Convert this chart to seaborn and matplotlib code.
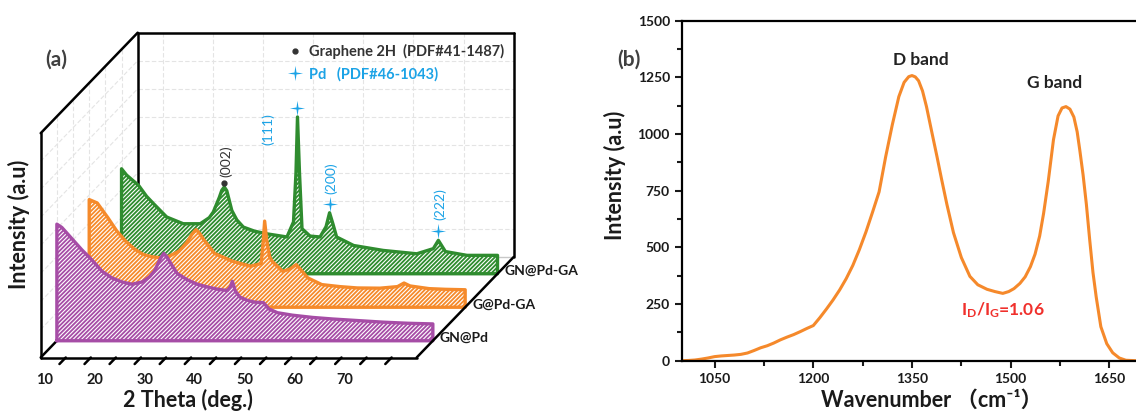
import numpy as np
import matplotlib
matplotlib.use("Agg")
import matplotlib.pyplot as plt
from matplotlib.lines import Line2D
from matplotlib.path import Path
from matplotlib.ticker import AutoMinorLocator, MultipleLocator
import matplotlib.transforms as mtransforms
import seaborn as sns

# ---------------- panel (a): XRD waterfall ----------------
# 2 theta (deg.) and intensity (a.u.)
tt_gnpd = [5.0, 6, 8, 10, 12, 14, 16, 18, 20, 22, 23.5, 24.5, 25.5, 26.3, 27, 28, 29, 31, 33, 35, 37, 39,
           39.6, 40.0, 40.6, 41.5, 43, 44.5, 46.2, 47.3, 49, 52, 56, 60, 65, 70, 75, 80]
int_gnpd = [520, 505, 455, 405, 360, 310, 280, 262, 252, 262, 285, 312, 360, 390, 372, 335, 300, 272, 252, 240, 230, 224,
            240, 265, 222, 195, 180, 172, 170, 142, 125, 114, 104, 97, 90, 83, 78, 75]

tt_gpdga = [5.0, 6.6, 8.7, 10.5, 12.3, 14, 15.8, 17.5, 19.4, 21, 22.9, 24.5, 25.5, 26.3, 27, 27.9, 30, 33.6, 37.2, 39.3,
            39.7, 40.0, 40.4, 41.0, 41.5, 43.6, 45, 46.3, 47.5, 48.6, 51.4, 55, 58.5, 63, 66.5, 67.8, 69, 72.8, 76, 80]
int_gpdga = [480, 465, 400, 340, 294, 260, 235, 225, 220, 228, 250, 290, 325, 346, 330, 300, 240, 205, 183, 195,
             290, 384, 300, 225, 205, 160, 170, 190, 160, 131, 101, 92, 86, 85, 92, 108, 95, 83, 80, 78]

tt_gnpdga = [5.0, 6, 8.4, 10, 11.4, 14, 17.3, 20.7, 22.5, 23.3, 24.5, 25.0, 25.5, 26.0, 27, 28, 29.3, 31.5, 34, 38, 39.3,
             39.8, 40.1, 40.5, 41.0, 42.6, 44.6, 45.8, 46.5, 47.2, 47.9, 51.3, 57.2, 63.9, 67.2, 68.2, 69.6, 73.9, 80]
int_gnpdga = [468, 440, 394, 345, 312, 253, 223, 223, 250, 275, 340, 372, 387, 370, 282, 240, 208, 190, 178, 164, 231,
              450, 699, 450, 201, 168, 164, 210, 272, 220, 164, 126, 104, 89, 112, 149, 99, 82, 82]

xrd_names = ["GN@Pd", "G@Pd-GA", "GN@Pd-GA"]
xrd_colors = ["#A64DA6", "#F58A2B", "#2F8C2F"]
xrd_ticks = [10, 20, 30, 40, 50, 60, 70]

graphene_peaks = [25.5]
graphene_hkl = ["(002)"]
pd_peaks = [40.1, 46.5, 68.2]
pd_hkl = ["(111)", "(200)", "(222)"]

# ---------------- panel (b): Raman ----------------
raman_wn = [1000, 1010, 1020, 1030, 1040, 1050, 1060, 1070, 1080, 1090, 1100, 1110, 1120, 1130, 1140, 1150,
            1160, 1170, 1180, 1190, 1200, 1210, 1220, 1230, 1240, 1250, 1260, 1270, 1280, 1290, 1300, 1310,
            1320, 1330, 1338, 1345, 1350, 1355, 1360, 1366, 1372, 1380, 1388, 1395, 1403, 1413, 1425, 1438,
            1450, 1464, 1476, 1488, 1497, 1505, 1514, 1522, 1530, 1537, 1544, 1550, 1557, 1565, 1572, 1578,
            1584, 1590, 1596, 1601, 1605, 1610, 1615, 1620, 1625, 1630, 1637, 1646, 1655, 1665, 1675, 1690, 1700]
raman_int = [0, 1, 3, 7, 12, 18, 21, 23, 25, 28, 34, 45, 57, 66, 78, 92,
             104, 115, 128, 142, 155, 190, 228, 268, 312, 362, 420, 490, 568, 655, 745, 900,
             1040, 1165, 1228, 1253, 1258, 1252, 1235, 1190, 1121, 1010, 900, 800, 690, 565, 455, 372,
             335, 315, 305, 297, 305, 318, 341, 370, 415, 470, 550, 650, 790, 975, 1080, 1115,
             1121, 1110, 1075, 1010, 929, 820, 690, 535, 390, 280, 150, 75, 35, 12, 2, 0, 0]
raman_ticks = [1050, 1200, 1350, 1500, 1650]

# ---------------- style ----------------
sns.set_style("white")
plt.rcParams["font.family"] = ["Lato", "Noto Sans CJK SC", "DejaVu Sans"]
plt.rcParams["font.weight"] = "bold"
plt.rcParams["axes.labelweight"] = "bold"
plt.rcParams["mathtext.fontset"] = "custom"
plt.rcParams["mathtext.rm"] = "Lato"
plt.rcParams["mathtext.bf"] = "Lato:bold"
plt.rcParams["hatch.linewidth"] = 0.8

W, H = 1136, 412
fig = plt.figure(figsize=(W / 100, H / 100), dpi=100)

# pseudo-3D geometry (pixels)
x0_px, y0_px = 40.7, 357.5      # front-bottom-left corner of the box
px_per_deg, px_per_unit = 5.013, 0.2243
depth_px = (97.0, 100.5)
tt_min, tt_max, i_max = 5, 80, 1000

ax = fig.add_axes([0, 0, 560 / W, 1])
ax.set_xlim(tt_min - x0_px / px_per_deg, tt_min + (560 - x0_px) / px_per_deg)
ax.set_ylim(-(H - y0_px) / px_per_unit, y0_px / px_per_unit)
ax.axis("off")
DX = depth_px[0] / px_per_deg
DY = depth_px[1] / px_per_unit


def proj(tt, inten, d):
    return np.asarray(tt, float) + d * DX, np.asarray(inten, float) + d * DY


def seg(p, q, **kw):
    ax.plot([p[0], q[0]], [p[1], q[1]], solid_capstyle="round", **kw)


grid_kw = dict(color="#e4e4e4", lw=0.8, ls=(0, (4, 2)), zorder=0)
for v in range(10, tt_max, 10):
    seg(proj(v, 0, 1), proj(v, i_max, 1), **grid_kw)
for lev in range(125, i_max, 125):
    seg(proj(tt_min, lev, 1), proj(tt_max, lev, 1), **grid_kw)
    seg(proj(tt_min, lev, 0), proj(tt_min, lev, 1), **grid_kw)
for d in np.arange(1, 6) / 6:
    seg(proj(tt_min, 0, d), proj(tt_min, i_max, d), **grid_kw)

box_kw = dict(color="black", lw=1.8, zorder=1)
seg(proj(tt_min, 0, 1), proj(tt_max, 0, 1), color="#c8c8c8", lw=1.0, zorder=1)
seg(proj(tt_min, i_max, 1), proj(tt_max, i_max, 1), **box_kw)
seg(proj(tt_max, 0, 1), proj(tt_max, i_max, 1), **box_kw)
seg(proj(tt_min, 0, 1), proj(tt_min, i_max, 1), **box_kw)
seg(proj(tt_min, 0, 0), proj(tt_min, 0, 1), **box_kw)

xrd_tt = [tt_gnpd, tt_gpdga, tt_gnpdga]
xrd_int = [int_gnpd, int_gpdga, int_gnpdga]
depths = [1 / 6, 1 / 2, 5 / 6]
for k in [2, 1, 0]:
    d, c = depths[k], xrd_colors[k]
    X, Y = proj(xrd_tt[k], xrd_int[k], d)
    base = d * DY
    ax.fill_between(X, base, Y, facecolor=c, edgecolor="white", hatch="////////", linewidth=0, zorder=2 + (2 - k))
    ox = np.concatenate([[X[0]], X, [X[-1], X[0]]])
    oy = np.concatenate([[base], Y, [base, base]])
    ax.plot(ox, oy, color=c, lw=2.4, zorder=2.5 + (2 - k), solid_joinstyle="round")
    lx, ly = proj(tt_max, 0, d)
    ax.annotate(xrd_names[k], (lx, ly), xytext=(5, 2), textcoords="offset points",
                ha="left", va="center", fontsize=10, fontweight="bold", color="#1a1a1a")

# front edges of the box
front_kw = dict(color="black", lw=1.8, zorder=6)
seg(proj(tt_min, 0, 0), proj(tt_min, i_max, 0), **front_kw)
seg(proj(tt_min, i_max, 0), proj(tt_min, i_max, 1), **front_kw)
seg(proj(tt_min, 0, 0), proj(tt_max, 0, 0), **front_kw)
seg(proj(tt_max, 0, 0), proj(tt_max, 0, 1), **front_kw)
for v in range(10, 80, 5):
    seg(proj(v, 0, 0), proj(v, 0, -0.065), **front_kw)
for v in xrd_ticks:
    tx, ty = proj(v, 0, -0.22)
    ax.text(tx, ty, str(v), ha="center", va="center", fontsize=10.5, fontweight="bold", color="#1a1a1a")

tx, ty = proj(42.5, 0, -0.42)
ax.text(tx, ty, "2 Theta (deg.)", ha="center", va="center", fontsize=15.5, fontweight="bold", color="#1a1a1a")
ax.text(0.6, 595, "Intensity (a.u)", rotation=90, ha="center", va="center", fontsize=15.5,
        fontweight="bold", color="#1a1a1a")
ax.text(8.2, 1326, "(a)", ha="center", va="center", fontsize=15, fontweight="bold", color="#404040")

# phase markers on the back (GN@Pd-GA) curve
star = Path([(0, 1), (0.13, 0.13), (1, 0), (0.13, -0.13), (0, -1), (-0.13, -0.13), (-1, 0), (-0.13, 0.13), (0, 1)],
            [Path.MOVETO] + [Path.LINETO] * 7 + [Path.CLOSEPOLY])
gray, blue = "#333333", "#1CA3E6"
dg = depths[2]
for p, lab in zip(graphene_peaks, graphene_hkl):
    mx, my = proj(p, np.interp(p, tt_gnpdga, int_gnpdga), dg)
    tr = mtransforms.offset_copy(ax.transData, fig=fig, y=3, units="points")
    ax.plot(mx, my, marker="o", ms=3.5, color=gray, transform=tr, zorder=7)
    ax.annotate(lab, (mx, my), xytext=(1, 7), textcoords="offset points", rotation=90,
                ha="center", va="bottom", fontsize=10, fontweight="normal", color=gray)
pd_offsets = [(-21.5, -27), (1.2, 7), (1.2, 8)]
for p, lab, off in zip(pd_peaks, pd_hkl, pd_offsets):
    mx, my = proj(p, np.interp(p, tt_gnpdga, int_gnpdga), dg)
    tr = mtransforms.offset_copy(ax.transData, fig=fig, y=6.5, units="points")
    ax.plot(mx, my, marker=star, ms=11, color=blue, mew=0, transform=tr, zorder=7)
    ax.annotate(lab, (mx, my), xytext=(off[0], off[1] + 6.5), textcoords="offset points", rotation=90,
                ha="center", va="bottom", fontsize=10, fontweight="normal", color=blue)

handles = [Line2D([], [], ls="none", marker="o", ms=3.5, color=gray),
           Line2D([], [], ls="none", marker=star, ms=11, mew=0, color=blue)]
ax.legend(handles, ["Graphene 2H  (PDF#41-1487)", "Pd   (PDF#46-1043)"], loc="upper left",
          bbox_to_anchor=(0.49, 0.925), frameon=False, handlelength=1.0, handletextpad=0.5,
          labelspacing=0.55, prop=dict(size=10.5, weight="bold"), labelcolor=[gray, blue])

# ---------------- panel (b) ----------------
bx = fig.add_axes([681.7 / W, (H - 360.7) / H, 460.6 / W, 340 / H])
sns.lineplot(x=raman_wn, y=raman_int, ax=bx, color="#F5892B", lw=2.2)
bx.set_xlim(1000, 1700)
bx.set_ylim(0, 1500)
bx.set_xticks(raman_ticks)
bx.xaxis.set_minor_locator(AutoMinorLocator(2))
bx.yaxis.set_major_locator(MultipleLocator(250))
bx.yaxis.set_minor_locator(AutoMinorLocator(2))
bx.tick_params(which="both", direction="out", width=1.5, colors="#1a1a1a", labelsize=10)
bx.tick_params(which="major", length=5)
bx.tick_params(which="minor", length=3.5)
bx.tick_params(axis="x", which="both", bottom=True)
bx.tick_params(axis="y", which="both", left=True)
plt.setp(bx.get_xticklabels() + bx.get_yticklabels(), fontweight="bold")
for s in ["left", "bottom", "top"]:
    bx.spines[s].set_linewidth(1.6)
    bx.spines[s].set_color("black")
bx.spines["right"].set_visible(False)
bx.set_xlabel("Wavenumber （cm⁻¹）", fontsize=15.5, fontweight="bold", color="#1a1a1a", va="center")
bx.xaxis.set_label_coords(0.543, -0.116)
bx.set_ylabel("Intensity (a.u)", fontsize=15.5, fontweight="bold", color="#1a1a1a", va="center")
bx.yaxis.set_label_coords(-0.145, 0.546)
bx.text(1363, 1327, "D band", ha="center", va="center", fontsize=12.5, fontweight="bold", color="#222222")
bx.text(1566, 1224, "G band", ha="center", va="center", fontsize=12.5, fontweight="bold", color="#222222")
bx.text(1488, 224, r"$\mathbf{I_D/I_G}$=1.06", ha="center", va="center", fontsize=12.5,
        fontweight="bold", color="#F0302C")
bx.text(-0.115, 0.885, "(b)", transform=bx.transAxes, ha="center", va="center", fontsize=15,
        fontweight="bold", color="#404040")

fig.savefig("out.png", dpi=100)
